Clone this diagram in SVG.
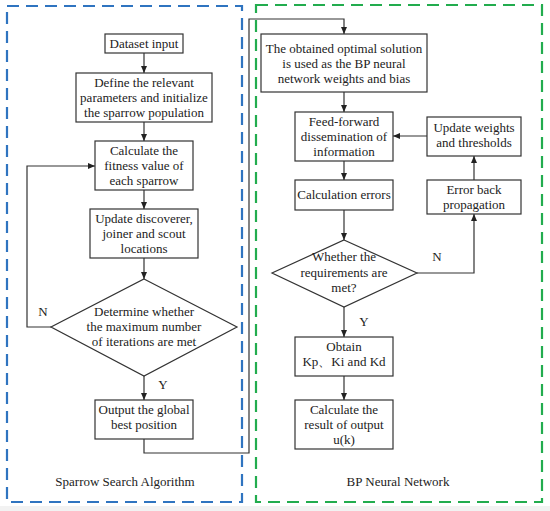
<svg xmlns="http://www.w3.org/2000/svg" width="550" height="511" viewBox="0 0 550 511" font-family="'Liberation Serif', 'DejaVu Serif', serif">
<defs>
<marker id="ah" markerWidth="8" markerHeight="8" refX="7" refY="4" orient="auto" markerUnits="userSpaceOnUse">
<path d="M0,1 L7,4 L0,7 Z" fill="#222"/>
</marker>
<style>
.box{fill:#fff;stroke:#333;stroke-width:1.2}
.t{font-family:'Liberation Serif','DejaVu Serif',serif;font-size:13px;fill:#222;text-anchor:middle}
.c{fill:none;stroke:#333;stroke-width:1.2}
.a{marker-end:url(#ah)}
.frame{fill:none;stroke-width:2.2;stroke-dasharray:12 7}
</style>
</defs>
<rect x="0" y="0" width="550" height="511" fill="#fff"/>
<rect x="0" y="506" width="550" height="5" fill="#f2f2f2"/>
<g id="frames">
<rect class="frame" x="7" y="6" width="235" height="496" stroke="#2f74c0"/>
<rect class="frame" x="256" y="5" width="286" height="497" stroke="#22ac4e"/>
<text class="t" x="125" y="486">Sparrow Search Algorithm</text>
<text class="t" x="398" y="486">BP Neural Network</text>
</g>
<g id="connectors">
<line class="c a" x1="144" y1="53" x2="144" y2="73"/>
<line class="c a" x1="144" y1="122" x2="144" y2="141"/>
<line class="c a" x1="144" y1="190" x2="144" y2="209"/>
<line class="c a" x1="144" y1="258" x2="144" y2="279"/>
<line class="c a" x1="144" y1="376" x2="144" y2="400"/>
<polyline class="c a" points="51,327 27,327 27,166 95,166"/>
<polyline class="c a" points="144,439 144,453 249,453 249,19 344,19 344,34"/>
<line class="c a" x1="344" y1="92" x2="344" y2="112"/>
<line class="c a" x1="344" y1="161" x2="344" y2="180"/>
<line class="c a" x1="344" y1="210" x2="344" y2="240"/>
<line class="c a" x1="344" y1="307" x2="344" y2="337"/>
<line class="c a" x1="344" y1="376" x2="344" y2="400"/>
<polyline class="c a" points="417,273 474,273 474,214"/>
<line class="c a" x1="474" y1="180" x2="474" y2="156"/>
<line class="c a" x1="427" y1="136" x2="393" y2="136"/>
<text class="t" x="43" y="316">N</text>
<text class="t" x="163" y="389">Y</text>
<text class="t" x="437" y="261">N</text>
<text class="t" x="364" y="326">Y</text>
</g>
<g id="n1"><rect class="box" x="105" y="34" width="78" height="19"/><text class="t" x="144" y="48">Dataset input</text></g>
<g id="n2"><rect class="box" x="76" y="73" width="136" height="49"/>
<text class="t" x="144" y="87">Define the relevant</text><text class="t" x="144" y="102">parameters and initialize</text><text class="t" x="144" y="117">the sparrow population</text></g>
<g id="n3"><rect class="box" x="95" y="141" width="98" height="49"/>
<text class="t" x="144" y="155">Calculate the</text><text class="t" x="144" y="170">fitness value of</text><text class="t" x="144" y="185">each sparrow</text></g>
<g id="n4"><rect class="box" x="90" y="209" width="108" height="49"/>
<text class="t" x="144" y="223">Update discoverer,</text><text class="t" x="144" y="238">joiner and scout</text><text class="t" x="144" y="253">locations</text></g>
<g id="n5"><polygon class="box" points="144,279 237,327 144,376 51,327"/>
<text class="t" x="144" y="316">Determine whether</text><text class="t" x="144" y="331">the maximum number</text><text class="t" x="144" y="346">of iterations are met</text></g>
<g id="n6"><rect class="box" x="95" y="400" width="98" height="39"/>
<text class="t" x="144" y="414">Output the global</text><text class="t" x="144" y="429">best position</text></g>
<g id="m1"><rect class="box" x="261" y="34" width="166" height="58"/>
<text class="t" x="344" y="53">The obtained optimal solution</text><text class="t" x="344" y="68">is used as the BP neural</text><text class="t" x="344" y="83">network weights and bias</text></g>
<g id="m2"><rect class="box" x="295" y="112" width="98" height="49"/>
<text class="t" x="344" y="126">Feed-forward</text><text class="t" x="344" y="141">dissemination of</text><text class="t" x="344" y="156">information</text></g>
<g id="m3"><rect class="box" x="427" y="117" width="94" height="39"/>
<text class="t" x="474" y="132">Update weights</text><text class="t" x="474" y="147">and thresholds</text></g>
<g id="m4"><rect class="box" x="295" y="180" width="98" height="30"/>
<text class="t" x="344" y="199">Calculation errors</text></g>
<g id="m5"><rect class="box" x="427" y="180" width="94" height="34"/>
<text class="t" x="474" y="194">Error back</text><text class="t" x="474" y="209">propagation</text></g>
<g id="m6"><polygon class="box" points="344,240 417,273 344,307 272,273"/>
<text class="t" x="344" y="261">Whether the</text><text class="t" x="344" y="277">requirements are</text><text class="t" x="344" y="292">met?</text></g>
<g id="m7"><rect class="box" x="295" y="337" width="98" height="39"/>
<text class="t" x="344" y="351">Obtain</text><text class="t" x="344" y="366">Kp、Ki and Kd</text></g>
<g id="m8"><rect class="box" x="295" y="400" width="98" height="49"/>
<text class="t" x="344" y="414">Calculate the</text><text class="t" x="344" y="429">result of output</text><text class="t" x="344" y="444">u(k)</text></g>
</svg>
